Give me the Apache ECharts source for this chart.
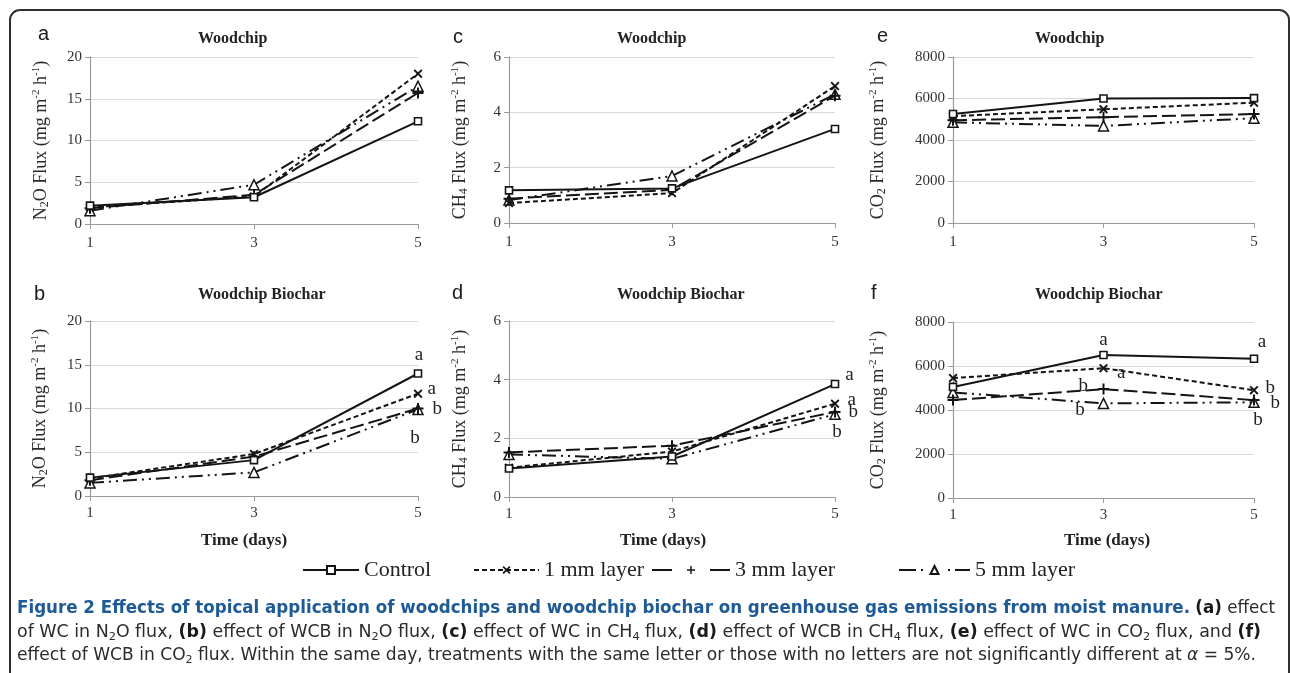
<!DOCTYPE html>
<html>
<head>
<meta charset="utf-8">
<script src="https://cdn.jsdelivr.net/npm/echarts@6/dist/echarts.min.js"></script>
<style>
  html, body { margin:0; padding:0; background:#fff; }
  #wrap { position:relative; width:1290px; height:673px; overflow:hidden; }
  #chart { position:absolute; left:0; top:0; width:1290px; height:673px; }
  #cap { position:absolute; left:17px; top:596px; font-family:"Liberation Sans Narrow","DejaVu Sans Condensed","Liberation Sans",sans-serif; font-size:17px; color:#2b2b2b; }
  #cap .l { white-space:nowrap; display:inline-block; transform-origin:0 0; height:23.5px; line-height:23.5px; }
  #cap .t { font-weight:bold; color:#1d5a96; }
  #cap b { font-weight:bold; color:#1a1a1a; }
  #cap sub { font-size:11px; vertical-align:-3px; line-height:0; }
</style>
</head>
<body>
<div id="wrap">
  <div id="chart"></div>
  <div id="cap">
    <div class="l" data-w="1258"><span class="t">Figure 2 Effects of topical application of woodchips and woodchip biochar on greenhouse gas emissions from moist manure.</span> <b>(a)</b> effect</div><br>
    <div class="l" data-w="1244">of WC in N<sub>2</sub>O flux, <b>(b)</b> effect of WCB in N<sub>2</sub>O flux, <b>(c)</b> effect of WC in CH<sub>4</sub> flux, <b>(d)</b> effect of WCB in CH<sub>4</sub> flux, <b>(e)</b> effect of WC in CO<sub>2</sub> flux, and <b>(f)</b></div><br>
    <div class="l" data-w="1239">effect of WCB in CO<sub>2</sub> flux. Within the same day, treatments with the same letter or those with no letters are not significantly different at <i>α</i> = 5%.</div>
  </div>
</div>
<script>
// ---------------- DATA ----------------
const days = ['1', '3', '5'];
const treatments = ['Control', '1 mm layer', '3 mm layer', '5 mm layer'];

// (a) N2O flux, Woodchip
const n2oWoodchipControl = [2.2, 3.2, 12.3];
const n2oWoodchip1mm     = [2.0, 3.3, 18.0];
const n2oWoodchip3mm     = [1.9, 3.5, 15.7];
const n2oWoodchip5mm     = [1.6, 4.7, 16.5];

// (c) CH4 flux, Woodchip
const ch4WoodchipControl = [1.18, 1.25, 3.40];
const ch4Woodchip1mm     = [0.72, 1.08, 4.95];
const ch4Woodchip3mm     = [0.88, 1.20, 4.60];
const ch4Woodchip5mm     = [0.83, 1.70, 4.65];

// (e) CO2 flux, Woodchip
const co2WoodchipControl = [5250, 6000, 6020];
const co2Woodchip1mm     = [5150, 5480, 5800];
const co2Woodchip3mm     = [4950, 5100, 5250];
const co2Woodchip5mm     = [4850, 4680, 5050];

// (b) N2O flux, Woodchip Biochar
const n2oBiocharControl = [2.1, 4.1, 14.0];
const n2oBiochar1mm     = [2.0, 4.8, 11.7];
const n2oBiochar3mm     = [1.8, 4.5, 10.0];
const n2oBiochar5mm     = [1.5, 2.7, 9.9];

// (d) CH4 flux, Woodchip Biochar
const ch4BiocharControl = [0.97, 1.38, 3.85];
const ch4Biochar1mm     = [1.00, 1.55, 3.18];
const ch4Biochar3mm     = [1.52, 1.75, 2.90];
const ch4Biochar5mm     = [1.45, 1.30, 2.82];

// (f) CO2 flux, Woodchip Biochar
const co2BiocharControl = [5050, 6500, 6330];
const co2Biochar1mm     = [5450, 5900, 4900];
const co2Biochar3mm     = [4450, 4950, 4450];
const co2Biochar5mm     = [4800, 4300, 4350];

// significance letters per treatment and day ('' = none)
const n2oBiocharLetters = [['', '', 'a'], ['', '', 'a'], ['', '', 'b'], ['', '', 'b']];
const ch4BiocharLetters = [['', '', 'a'], ['', '', 'a'], ['', '', 'b'], ['', '', 'b']];
const co2BiocharLetters = [['', 'a', 'a'], ['', 'a', 'b'], ['', 'b', 'b'], ['', 'b', 'b']];

// y-axis ticks
const n2oTicks = { min: 0, max: 20, interval: 5 };
const ch4Ticks = { min: 0, max: 6, interval: 2 };
const co2Ticks = { min: 0, max: 8000, interval: 2000 };

// ---------------- LAYOUT / STYLE ----------------
const SERIF = '"Liberation Serif","Times New Roman",serif';
const SANS = '"Liberation Sans",Arial,sans-serif';
const INK = '#141414';

const symX = 'path://M0,1.5L1.5,0L5,3.5L8.5,0L10,1.5L6.5,5L10,8.5L8.5,10L5,6.5L1.5,10L0,8.5L3.5,5Z';
const symPlus = 'path://M4.1,0H5.9V4.1H10V5.9H5.9V10H4.1V5.9H0V4.1H4.1Z';

const treatmentStyle = {
  'Control':    { symbol: 'rect', symbolSize: 7, itemStyle: { color: '#fff', borderColor: INK, borderWidth: 1.6 }, lineStyle: { color: INK, width: 2, type: 'solid' } },
  '1 mm layer': { symbol: symX, symbolSize: 9, itemStyle: { color: INK }, lineStyle: { color: INK, width: 2, type: [5, 3] } },
  '3 mm layer': { symbol: symPlus, symbolSize: 11, itemStyle: { color: INK }, lineStyle: { color: INK, width: 2, type: [14, 5] } },
  '5 mm layer': { symbol: 'triangle', symbolSize: 10, itemStyle: { color: '#fff', borderColor: INK, borderWidth: 1.5 }, lineStyle: { color: INK, width: 2, type: [14, 5, 2, 5, 2, 5] } }
};

function richName(pre, sub, post) {
  return '{n|' + pre + '}{sub|' + sub + '}{n|' + post + ' Flux (mg m}{sup|-2}{n| h}{sup|-1}{n|)}';
}
const nameRich = {
  n: { fontFamily: SERIF, fontSize: 18, color: '#2a2a2a', lineHeight: 20 },
  sub: { fontFamily: SERIF, fontSize: 12, color: '#2a2a2a', lineHeight: 12, verticalAlign: 'bottom' },
  sup: { fontFamily: SERIF, fontSize: 11, color: '#2a2a2a', lineHeight: 11, verticalAlign: 'top' }
};

// label placement for the significance letters: key "treatmentIndex-dayIndex"
const letterPlace = {
  b: {
    '0-2': { position: 'top', distance: 5, offset: [1, 0] },
    '1-2': { position: 'right', distance: 5, offset: [0, -5] },
    '2-2': { position: 'right', distance: 9, offset: [0, 1] },
    '3-2': { position: 'bottom', distance: 13, offset: [-3, 0] }
  },
  d: {
    '0-2': { position: 'right', distance: 6, offset: [0, -9] },
    '1-2': { position: 'right', distance: 8, offset: [0, -4] },
    '2-2': { position: 'right', distance: 8, offset: [0, 0] },
    '3-2': { position: 'bottom', distance: 2, offset: [2, 0] }
  },
  f: {
    '0-1': { position: 'top', distance: 1, offset: [0, 0] },
    '0-2': { position: 'top', distance: 3, offset: [8, 0] },
    '1-1': { position: 'right', distance: 9, offset: [0, 5] },
    '1-2': { position: 'right', distance: 7, offset: [0, -2] },
    '2-1': { position: 'left', distance: 10, offset: [0, -3] },
    '2-2': { position: 'right', distance: 11, offset: [0, 3] },
    '3-1': { position: 'left', distance: 13, offset: [0, 7] },
    '3-2': { position: 'bottom', distance: 2, offset: [4, 0] }
  }
};

const panels = [
  { id: 'a', grid: { left: 90, top: 57, width: 328, height: 167 }, ticks: n2oTicks, name: richName('N', '2', 'O'), nameGap: 39, labelMargin: 12,
    values: [n2oWoodchipControl, n2oWoodchip1mm, n2oWoodchip3mm, n2oWoodchip5mm], letters: null },
  { id: 'c', grid: { left: 509, top: 57, width: 326, height: 166 }, ticks: ch4Ticks, name: richName('CH', '4', ''), nameGap: 39, labelMargin: 12,
    values: [ch4WoodchipControl, ch4Woodchip1mm, ch4Woodchip3mm, ch4Woodchip5mm], letters: null },
  { id: 'e', grid: { left: 953, top: 57, width: 301, height: 166 }, ticks: co2Ticks, name: richName('CO', '2', ''), nameGap: 65, labelMargin: 12,
    values: [co2WoodchipControl, co2Woodchip1mm, co2Woodchip3mm, co2Woodchip5mm], letters: null },
  { id: 'b', grid: { left: 90, top: 321, width: 328, height: 175 }, ticks: n2oTicks, name: richName('N', '2', 'O'), nameGap: 40, labelMargin: 10,
    values: [n2oBiocharControl, n2oBiochar1mm, n2oBiochar3mm, n2oBiochar5mm], letters: n2oBiocharLetters },
  { id: 'd', grid: { left: 509, top: 321, width: 326, height: 176 }, ticks: ch4Ticks, name: richName('CH', '4', ''), nameGap: 39, labelMargin: 10,
    values: [ch4BiocharControl, ch4Biochar1mm, ch4Biochar3mm, ch4Biochar5mm], letters: ch4BiocharLetters },
  { id: 'f', grid: { left: 953, top: 322, width: 301, height: 176 }, ticks: co2Ticks, name: richName('CO', '2', ''), nameGap: 65, labelMargin: 10,
    values: [co2BiocharControl, co2Biochar1mm, co2Biochar3mm, co2Biochar5mm], letters: co2BiocharLetters }
];

const grids = [], xAxes = [], yAxes = [], series = [];
panels.forEach((p, gi) => {
  grids.push(Object.assign({ outerBoundsMode: 'none', containLabel: false }, p.grid));
  xAxes.push({
    type: 'category', gridIndex: gi, data: days, boundaryGap: false,
    axisLine: { show: true, lineStyle: { color: '#9a9a9a', width: 1.2 } },
    axisTick: { show: true, length: 5, lineStyle: { color: '#9a9a9a' } },
    axisLabel: { fontFamily: SERIF, fontSize: 15, color: '#333', margin: p.labelMargin },
    splitLine: { show: false }
  });
  yAxes.push({
    type: 'value', gridIndex: gi, min: p.ticks.min, max: p.ticks.max, interval: p.ticks.interval,
    name: p.name, nameLocation: 'middle', nameGap: p.nameGap,
    nameTextStyle: { rich: nameRich },
    axisLine: { show: true, lineStyle: { color: '#9a9a9a', width: 1.2 } },
    axisTick: { show: true, length: 5, lineStyle: { color: '#9a9a9a' } },
    axisLabel: { fontFamily: SERIF, fontSize: 15, color: '#333', margin: 8, formatter: v => String(v) },
    splitLine: { show: true, lineStyle: { color: '#d9d9d9', width: 1.2 } }
  });
  treatments.forEach((t, si) => {
    const st = treatmentStyle[t];
    const data = p.values[si].map((v, di) => {
      const letter = p.letters ? p.letters[si][di] : '';
      if (!letter) return v;
      const place = letterPlace[p.id][si + '-' + di];
      return {
        value: v,
        label: Object.assign({ show: true, formatter: letter, fontFamily: SERIF, fontSize: 19, color: '#222' }, place)
      };
    });
    series.push({
      type: 'line', name: t, xAxisIndex: gi, yAxisIndex: gi, data: data,
      symbol: st.symbol, symbolSize: st.symbolSize, showSymbol: true,
      itemStyle: st.itemStyle, lineStyle: st.lineStyle,
      label: { show: false }, emphasis: { disabled: true },
      z: 10 - si
    });
  });
});

const legendSpec = [
  { name: 'Control', left: 302, width: 56, dash: 'solid' },
  { name: '1 mm layer', left: 473, width: 65, dash: [5, 3] },
  { name: '3 mm layer', left: 651, width: 78, dash: [20, 38] },
  { name: '5 mm layer', left: 898, width: 71, dash: [17, 5, 2, 25, 2, 5, 17, 10] }
];
const legends = legendSpec.map(l => ({
  data: [l.name], left: l.left, top: 559, itemWidth: l.width, itemHeight: 10, itemGap: 0,
  selectedMode: false, padding: 0,
  lineStyle: { type: l.dash, width: 2, color: INK },
  textStyle: { fontFamily: SERIF, fontSize: 22, color: '#222' }
}));

const graphics = [
  { type: 'rect', shape: { x: 10, y: 10, width: 1279, height: 720, r: 10 }, style: { fill: 'none', stroke: '#2f2f2f', lineWidth: 2 }, silent: true }
];
const panelLetters = [['a', 38, 34], ['c', 453, 37], ['e', 877, 36], ['b', 34, 294], ['d', 452, 293], ['f', 871, 293]];
panelLetters.forEach(([t, x, y]) => graphics.push({ type: 'text', x, y, style: { text: t, font: '20px ' + SANS, fill: '#1a1a1a', textVerticalAlign: 'middle', verticalAlign: 'middle' } }));
const titles = [['Woodchip', 198, 39], ['Woodchip', 617, 39], ['Woodchip', 1035, 39], ['Woodchip Biochar', 198, 295], ['Woodchip Biochar', 617, 295], ['Woodchip Biochar', 1035, 295]];
titles.forEach(([t, x, y]) => graphics.push({ type: 'text', x, y, style: { text: t, font: 'bold 16px ' + SERIF, fill: '#222', textVerticalAlign: 'middle', verticalAlign: 'middle' } }));
[[244, 541], [663, 541], [1107, 541]].forEach(([x, y]) => graphics.push({ type: 'text', x, y, style: { text: 'Time (days)', font: 'bold 17px ' + SERIF, fill: '#222', align: 'center', textAlign: 'center', verticalAlign: 'middle', textVerticalAlign: 'middle' } }));

const chart = echarts.init(document.getElementById('chart'), null, { renderer: 'canvas' });
chart.setOption({
  backgroundColor: '#fff',
  animation: false,
  grid: grids, xAxis: xAxes, yAxis: yAxes, series: series,
  legend: legends,
  graphic: graphics
});

// fit caption lines to measured widths
document.querySelectorAll('#cap .l').forEach(el => {
  const w = el.getBoundingClientRect().width;
  const target = +el.dataset.w;
  el.style.transform = 'scaleX(' + (target / w) + ')';
});
</script>
</body>
</html>
